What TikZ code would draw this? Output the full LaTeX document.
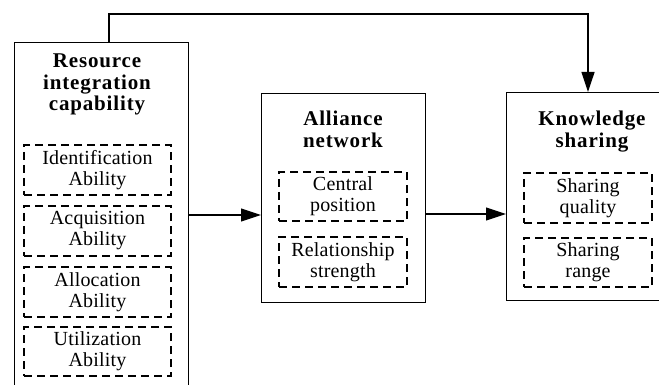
\documentclass[tikz,border=0pt]{standalone}
\usepackage{fontspec}
\setmainfont{Liberation Serif}
\newfontfamily\titlefont[LetterSpace=4]{Liberation Serif}
\newfontfamily\subfont[LetterSpace=1]{Liberation Serif}
\usetikzlibrary{arrows.meta}
\begin{document}
\begin{tikzpicture}[x=1pt,y=-1pt,
  mainbox/.style={draw,line width=1.2pt,inner sep=0pt,anchor=north west},
  subbox/.style={draw,line width=1.1pt,dash pattern=on 8pt off 5pt,inner sep=0pt,align=center,
    font=\subfont\fontsize{20}{21}\selectfont},
  titletext/.style={align=center,inner sep=0pt,anchor=north,font=\titlefont\fontsize{21}{21.5}\bfseries\selectfont},
  arr/.style={line width=1.2pt,-{Triangle[length=20pt,width=13pt]}}]
\useasboundingbox (0,0) rectangle (659,385);
% main boxes
\node[mainbox,minimum width=174pt,minimum height=370pt] (L) at (14,42) {};
\node[mainbox,minimum width=164pt,minimum height=209pt] (A) at (261,93) {};
\node[mainbox,minimum width=168pt,minimum height=208pt] (K) at (506,92) {};
% titles
\node[titletext] (Lt) at (97,54) {Resource\\integration\\capability};
\node[titletext] (At) at (343,111) {Alliance\\network};
\node[titletext] (Kt) at (592,111) {Knowledge\\sharing};
% sub boxes
\node[subbox,minimum width=147pt,minimum height=50pt] (L1) at (97.5,170) {Identification\\Ability};
\node[subbox,minimum width=147pt,minimum height=50pt] (L2) at (97.5,231) {Acquisition\\Ability};
\node[subbox,minimum width=147pt,minimum height=50pt] (L3) at (97.5,292) {Allocation\\Ability};
\node[subbox,minimum width=147pt,minimum height=49pt] (L4) at (97.5,351.5) {Utilization\\Ability};
\node[subbox,minimum width=128pt,minimum height=49pt] (A1) at (343,196.5) {Central\\position};
\node[subbox,minimum width=128pt,minimum height=50pt] (A2) at (343,262) {Relationship\\strength};
\node[subbox,minimum width=128pt,minimum height=50pt] (K1) at (588,198) {Sharing\\quality};
\node[subbox,minimum width=128pt,minimum height=49pt] (K2) at (588,262.5) {Sharing\\range};
% connectors
\coordinate (m1) at (0,215);
\coordinate (m2) at (0,214);
\coordinate (t1) at (109,14);
\coordinate (t2) at (588,14);
\draw[arr] (L.east |- m1) -- (A.west |- m1);
\draw[arr] (A.east |- m2) -- (K.west |- m2);
\draw[arr] (L.north -| t1) -- (t1) -- (t2) -- (K.north -| t2);
\end{tikzpicture}
\end{document}
